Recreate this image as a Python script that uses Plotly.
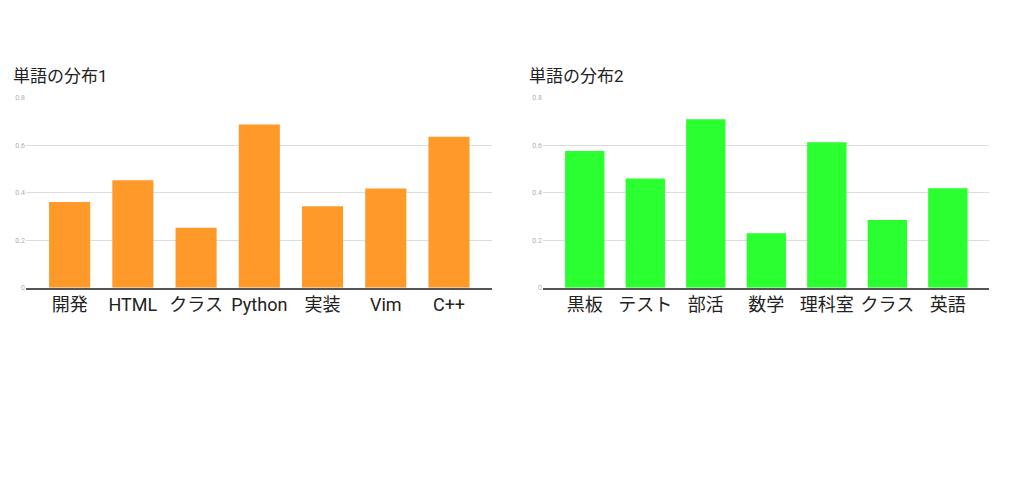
import plotly.graph_objects as go

cats1 = ["開発", "HTML", "クラス", "Python", "実装", "Vim", "C++"]
vals1 = [0.361, 0.452, 0.252, 0.687, 0.343, 0.417, 0.635]
cats2 = ["黒板", "テスト", "部活", "数学", "理科室", "クラス", "英語"]
vals2 = [0.575, 0.459, 0.709, 0.229, 0.612, 0.285, 0.418]
title1 = "単語の分布1"
title2 = "単語の分布2"
yticks = [0, 0.2, 0.4, 0.6, 0.8]
ytick_text = ["0", "0.2", "0.4", "0.6", "0.8"]

FONT = "Roboto, Noto Sans CJK JP"

# page body has an 8px default margin
OFF = 8
W, H = 1024 - 2 * OFF, 488 - 2 * OFF


def px(x):
    return (x - OFF) / W


def py(y):
    return 1 - (y - OFF) / H


fig = go.Figure()
fig.add_trace(go.Bar(x=cats1, y=vals1, marker=dict(color="#FF9A2A", line=dict(width=0)),
                     width=0.65, xaxis="x", yaxis="y", showlegend=False))
fig.add_trace(go.Bar(x=cats2, y=vals2, marker=dict(color="#2AFF2F", line=dict(width=0)),
                     width=0.65, xaxis="x2", yaxis="y2", showlegend=False))

xcommon = dict(type="category", range=[-0.69, 6.68], showline=True, linecolor="#555555",
               linewidth=1.5, showgrid=False, ticks="", fixedrange=True,
               tickfont=dict(family=FONT, size=18, color="#222222"))
ycommon = dict(range=[0, 0.8], tickvals=yticks, ticktext=ytick_text, showgrid=True,
               gridcolor="#dddddd", gridwidth=1, zeroline=False, showline=False,
               tickfont=dict(family="Roboto", size=7, color="#b0b0b0"), ticks="")

ydom = [py(288.5), py(95)]
fig.update_layout(
    width=W, height=H,
    margin=dict(l=0, r=0, t=0, b=0),
    paper_bgcolor="white", plot_bgcolor="white",
    xaxis=dict(domain=[px(26), px(492)], anchor="y", **xcommon),
    yaxis=dict(domain=ydom, anchor="x", **ycommon),
    xaxis2=dict(domain=[px(543), px(989)], anchor="y2", **xcommon),
    yaxis2=dict(domain=ydom, anchor="x2", **ycommon),
    annotations=[
        dict(text=title1, x=px(11), y=py(73), xref="paper", yref="paper",
             xanchor="left", yanchor="middle", showarrow=False,
             font=dict(family=FONT, size=17, color="#222222")),
        dict(text=title2, x=px(527), y=py(73), xref="paper", yref="paper",
             xanchor="left", yanchor="middle", showarrow=False,
             font=dict(family=FONT, size=17, color="#222222")),
    ],
)

fig.write_html("out.html")
